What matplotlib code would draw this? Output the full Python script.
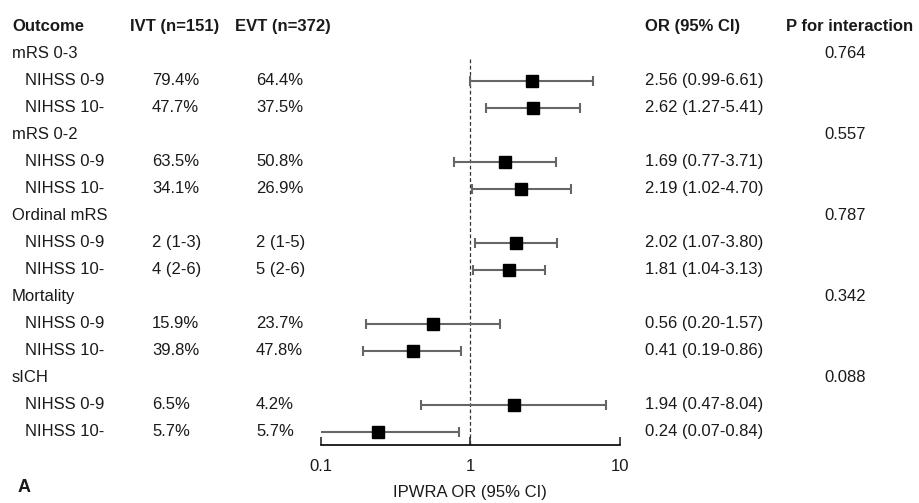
import matplotlib
matplotlib.use("Agg")
import matplotlib.pyplot as plt
from matplotlib.transforms import blended_transform_factory

plt.rcParams['font.family'] = ['Liberation Sans', 'DejaVu Sans']

outcomes = ["mRS 0-3", "mRS 0-2", "Ordinal mRS", "Mortality", "sICH"]
subgroups = ["NIHSS 0-9", "NIHSS 10-"]
ivt = [["79.4%", "47.7%"], ["63.5%", "34.1%"], ["2 (1-3)", "4 (2-6)"],
       ["15.9%", "39.8%"], ["6.5%", "5.7%"]]
evt = [["64.4%", "37.5%"], ["50.8%", "26.9%"], ["2 (1-5)", "5 (2-6)"],
       ["23.7%", "47.8%"], ["4.2%", "5.7%"]]
or_est = [[2.56, 2.62], [1.69, 2.19], [2.02, 1.81], [0.56, 0.41], [1.94, 0.24]]
or_lo = [[0.99, 1.27], [0.77, 1.02], [1.07, 1.04], [0.20, 0.19], [0.47, 0.07]]
or_hi = [[6.61, 5.41], [3.71, 4.70], [3.80, 3.13], [1.57, 0.86], [8.04, 0.84]]
p_int = ["0.764", "0.557", "0.787", "0.342", "0.088"]
xticks = [0.1, 1, 10]
xtick_labels = ["0.1", "1", "10"]
headers = ["Outcome", "IVT (n=151)", "EVT (n=372)", "OR (95% CI)", "P for interaction"]

W, H = 920, 503
fig = plt.figure(figsize=(W / 100, H / 100), dpi=100)
# rows: y_px = 26.5 + 27 * index ; axis line at 445 px
y0, dy = 26.5, 27.0
ybot = (445 - y0) / dy
ytop = (0 - y0) / dy
ax = fig.add_axes([321 / W, (H - 445) / H, (620 - 321) / W, 445 / H])
ax.set_xscale('log')
ax.set_xlim(0.1, 10)
ax.set_ylim(ybot, ytop)
for s in ['left', 'right', 'top']:
    ax.spines[s].set_visible(False)
ax.spines['bottom'].set_linewidth(1.2)
ax.set_yticks([])
ax.set_xticks(xticks)
ax.set_xticklabels(xtick_labels)
ax.xaxis.set_minor_locator(matplotlib.ticker.NullLocator())
ax.tick_params(axis='x', direction='in', length=6, width=1.1, labelsize=12, pad=10, colors='#1a1a1a')

ax.vlines(1, 1.2, ybot, colors='#333333', linestyles=(0, (3, 2)), linewidth=0.9)

tr = blended_transform_factory(fig.transFigure, ax.transData)
fs = 12
tc = '#1a1a1a'
hx = [12, 130.5, 235, 645, 786.5]
for x, h in zip(hx, headers):
    ax.text(x / W, 0, h, transform=tr, fontsize=fs, fontweight='bold', va='center', ha='left', color=tc, clip_on=False)

row = 1
for i, oc in enumerate(outcomes):
    ax.text(12 / W, row, oc, transform=tr, fontsize=fs, va='center', color=tc)
    ax.text(845 / W, row, p_int[i], transform=tr, fontsize=fs, va='center', ha='center', color=tc)
    row += 1
    for j, sg in enumerate(subgroups):
        ax.text(25 / W, row, sg, transform=tr, fontsize=fs, va='center', color=tc)
        ax.text(152 / W, row, ivt[i][j], transform=tr, fontsize=fs, va='center', color=tc)
        ax.text(256 / W, row, evt[i][j], transform=tr, fontsize=fs, va='center', color=tc)
        e, lo, hi = or_est[i][j], or_lo[i][j], or_hi[i][j]
        ax.text(645 / W, row, f"{e:.2f} ({lo:.2f}-{hi:.2f})", transform=tr, fontsize=fs, va='center', color=tc)
        ax.errorbar([e], [row], xerr=[[e - lo], [hi - e]], fmt='none', ecolor='#666666',
                    elinewidth=1.5, capsize=3.6, capthick=1.5, zorder=2)
        ax.plot([e], [row], marker='s', markersize=8.5, color='black', zorder=3)
        row += 1

fig.text(470 / W, 1 - 493 / H, "IPWRA OR (95% CI)", fontsize=12, ha='center', va='center', color=tc)
fig.text(18 / W, 1 - 487 / H, "A", fontsize=13, fontweight='bold', ha='left', va='center', color=tc)

fig.savefig("out.png", dpi=100)
